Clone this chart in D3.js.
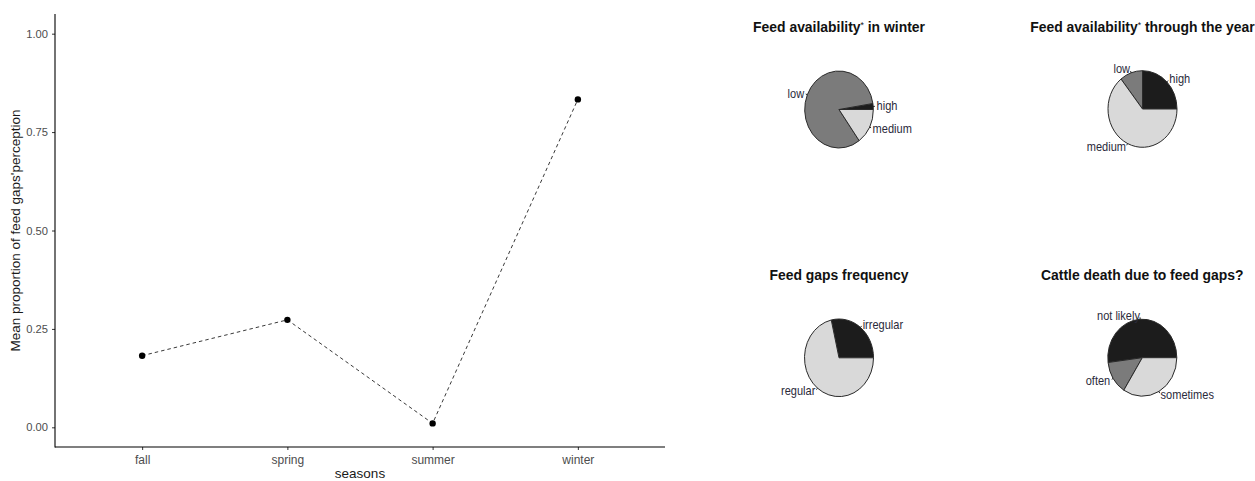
<!DOCTYPE html>
<html>
<head>
<meta charset="utf-8">
<script src="https://cdn.jsdelivr.net/npm/d3@7"></script>
<style>
  html, body { margin: 0; padding: 0; background: #fff; }
  svg { display: block; font-family: "Liberation Sans", Arial, sans-serif; }
</style>
</head>
<body>
<svg id="chart" width="1255" height="481"></svg>
<script>
// Seasonal perception of feed gaps
const seasons = ["fall", "spring", "summer", "winter"];
const meanProportion = [0.182, 0.273, 0.01, 0.833];
const yTicks = [0, 0.25, 0.5, 0.75, 1];

// Pie panels: labels, shares and fills
const winterLabels = ["high", "low", "medium"];
const winterShares = [0.025, 0.825, 0.15];
const yearLabels = ["high", "low", "medium"];
const yearShares = [0.25, 0.107, 0.643];
const gapLabels = ["irregular", "regular"];
const gapShares = [0.286, 0.714];
const deathLabels = ["not likely", "often", "sometimes"];
const deathShares = [0.52, 0.14, 0.34];

const fills3 = ["#1c1c1c", "#7b7b7b", "#d9d9d9"];
const fills2 = ["#1c1c1c", "#d9d9d9"];

const svg = d3.select("#chart");

// ---------- line chart ----------
const plot = { left: 55, right: 665, top: 14, bottom: 447 };

// 0.6 category units of empty space at each end of the discrete axis
const x = d3.scalePoint()
  .domain(seasons)
  .range([plot.left, plot.right])
  .padding(0.6);

const y = d3.scaleLinear()
  .domain([-0.05, 1.05])
  .range([plot.bottom, plot.top]);

const g = svg.append("g");

// axes
const yAxis = d3.axisLeft(y).tickValues(yTicks).tickFormat(d3.format(".2f")).tickSize(3).tickPadding(4);
const xAxis = d3.axisBottom(x).tickSize(3).tickPadding(5);

const gy = g.append("g").attr("transform", `translate(${plot.left},0)`).call(yAxis);
const gx = g.append("g").attr("transform", `translate(0,${plot.bottom})`).call(xAxis);

[gx, gy].forEach(a => {
  a.select(".domain").remove();
  a.selectAll(".tick line").attr("stroke", "#333").attr("stroke-width", 1);
  a.selectAll(".tick text").attr("fill", "#4d4d4d");
});
gy.selectAll(".tick text").style("font-size", "11.2px");
gx.selectAll(".tick text").style("font-size", "12px");

// axis lines
g.append("line").attr("x1", plot.left).attr("x2", plot.left)
  .attr("y1", plot.top).attr("y2", plot.bottom + 0.5)
  .attr("stroke", "#000").attr("stroke-width", 1.1);
g.append("line").attr("x1", plot.left).attr("x2", plot.right)
  .attr("y1", plot.bottom).attr("y2", plot.bottom)
  .attr("stroke", "#000").attr("stroke-width", 1.1);

// dashed line through season means
const series = seasons.map((s, i) => ({ s, v: meanProportion[i] }));
g.append("path")
  .datum(series)
  .attr("fill", "none")
  .attr("stroke", "#222")
  .attr("stroke-width", 0.9)
  .attr("stroke-dasharray", "3.5,3")
  .attr("d", d3.line().x(d => x(d.s)).y(d => y(d.v)));

g.selectAll("circle.pt")
  .data(series)
  .enter().append("circle")
  .attr("class", "pt")
  .attr("cx", d => x(d.s))
  .attr("cy", d => y(d.v))
  .attr("r", 3.2)
  .attr("fill", "#000");

// axis titles
g.append("text")
  .attr("x", (plot.left + plot.right) / 2)
  .attr("y", 478)
  .attr("text-anchor", "middle")
  .style("font-size", "13.5px")
  .attr("fill", "#1a1a1a")
  .text("seasons");

g.append("text")
  .attr("transform", `translate(20,${(plot.top + plot.bottom) / 2}) rotate(-90)`)
  .attr("text-anchor", "middle")
  .style("font-size", "13.5px")
  .attr("fill", "#1a1a1a")
  .text("Mean proportion of feed gaps'perception");

// ---------- pies ----------
// Slices start at 3 o'clock and run counter-clockwise.
const pie = d3.pie().sort(null).value(d => d.v)
  .startAngle(Math.PI / 2).endAngle(Math.PI / 2 - 2 * Math.PI);

function drawPie(opts) {
  const { cx, cy, rx, ry, labels, shares, fills, title, titleY, star } = opts;
  const sy = ry / rx;
  const data = labels.map((l, i) => ({ l, v: shares[i], f: fills[i] }));
  const arcs = pie(data);
  const arc = d3.arc().innerRadius(0).outerRadius(rx);

  const pg = svg.append("g").attr("transform", `translate(${cx},${cy})`);
  const sg = pg.append("g").attr("transform", `scale(1,${sy})`);

  sg.selectAll("path")
    .data(arcs)
    .enter().append("path")
    .attr("d", arc)
    .attr("fill", d => d.data.f)
    .attr("stroke", "#2a2a2a")
    .attr("stroke-width", 1)
    .attr("vector-effect", "non-scaling-stroke");

  // tick marks and labels outside the rim
  arcs.forEach(a => {
    const m = (a.startAngle + a.endAngle) / 2;
    const ux = Math.sin(m), uy = -Math.cos(m);
    pg.append("line")
      .attr("x1", ux * rx).attr("y1", uy * ry)
      .attr("x2", ux * rx * 1.05).attr("y2", uy * ry * 1.05)
      .attr("stroke", "#111").attr("stroke-width", 0.9);
    const tx = ux * rx * 1.1, ty = uy * ry * 1.1;
    pg.append("text")
      .attr("transform", `translate(${tx},${ty}) scale(0.92,1)`)
      .attr("text-anchor", ux < 0 ? "end" : "start")
      .attr("dy", "0.35em")
      .style("font-size", "12px")
      .attr("fill", "#2a2a3a")
      .text(a.data.l);
  });

  const t = svg.append("text")
    .attr("transform", `translate(${cx},${titleY}) scale(0.96,1)`)
    .attr("text-anchor", "middle")
    .style("font-size", "14.5px")
    .style("font-weight", "bold")
    .attr("fill", "#111");
  if (star) {
    t.append("tspan").text(star[0]);
    t.append("tspan").text("*").attr("dy", "-4").style("font-size", "9px").style("font-weight", "normal");
    t.append("tspan").text(star[1]).attr("dy", "4");
  } else {
    t.text(title);
  }
}

drawPie({ cx: 839, cy: 109.5, rx: 34.3, ry: 38.5, labels: winterLabels, shares: winterShares,
  fills: fills3, titleY: 32, star: ["Feed availability", " in winter"] });
drawPie({ cx: 1142.5, cy: 109, rx: 34.5, ry: 38.3, labels: yearLabels, shares: yearShares,
  fills: fills3, titleY: 32, star: ["Feed availability", " through the year"] });
drawPie({ cx: 839, cy: 357.8, rx: 34.5, ry: 38.8, labels: gapLabels, shares: gapShares,
  fills: fills2, titleY: 280, title: "Feed gaps frequency" });
drawPie({ cx: 1142.3, cy: 357.7, rx: 34.5, ry: 38.5, labels: deathLabels, shares: deathShares,
  fills: fills3, titleY: 280, title: "Cattle death due to feed gaps?" });
</script>
</body>
</html>
